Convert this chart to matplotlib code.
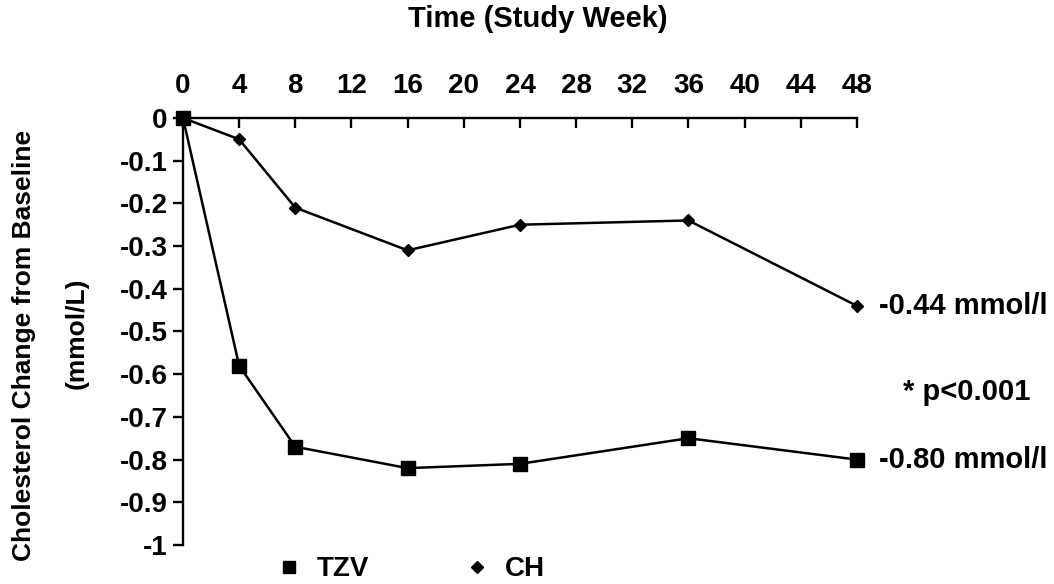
import matplotlib
matplotlib.use('Agg')
import matplotlib.pyplot as plt
from matplotlib.lines import Line2D

# study weeks and cholesterol change (mmol/L)
weeks = [0, 4, 8, 16, 24, 36, 48]
tzv = [0, -0.58, -0.77, -0.82, -0.81, -0.75, -0.80]
ch = [0, -0.05, -0.21, -0.31, -0.25, -0.24, -0.44]

xticks = list(range(0, 49, 4))
yticks = [0, -0.1, -0.2, -0.3, -0.4, -0.5, -0.6, -0.7, -0.8, -0.9, -1]
ytick_labels = ['0', '-0.1', '-0.2', '-0.3', '-0.4', '-0.5', '-0.6', '-0.7', '-0.8', '-0.9', '-1']

plt.rcParams['font.family'] = ['Liberation Sans', 'DejaVu Sans']

fig = plt.figure(figsize=(10.54, 5.84), dpi=100)
ax = fig.add_axes([0.1736, 0.0668, 0.8130 - 0.1736, 0.798 - 0.0668])

ax.plot(weeks, ch, color='black', lw=1.8, marker='D', ms=6.5, zorder=3, clip_on=False)
ax.plot(weeks, tzv, color='black', lw=1.8, marker='s', ms=10.5, zorder=4, clip_on=False)

ax.set_xlim(0, 48)
ax.set_ylim(-1, 0)

ax.spines['right'].set_visible(False)
ax.spines['bottom'].set_visible(False)
ax.spines['top'].set_linewidth(1.7)
ax.spines['left'].set_linewidth(1.7)

ax.xaxis.set_ticks_position('top')
ax.set_xticks(xticks)
ax.set_xticklabels([str(t) for t in xticks], fontweight='bold', fontsize=20)
ax.tick_params(axis='x', direction='in', length=7, width=1.7, pad=14)

ax.set_yticks(yticks)
ax.set_yticklabels(ytick_labels, fontweight='bold', fontsize=20)
ax.tick_params(axis='y', direction='out', length=7, width=1.7, pad=4)

fig.text(0.51, 0.967, 'Time (Study Week)', ha='center', va='center',
         fontsize=21, fontweight='bold')

fig.text(0.023, 0.409, 'Cholesterol Change from Baseline', rotation=90,
         ha='center', va='center', fontsize=19, fontweight='bold')
fig.text(0.073, 0.43, '(mmol/L)', rotation=90,
         ha='center', va='center', fontsize=19, fontweight='bold')

# end labels
ax.annotate('-0.44 mmol/l', xy=(weeks[-1], ch[-1]), xytext=(16, 0),
            textcoords='offset points', ha='left', va='center',
            fontsize=21, fontweight='bold', annotation_clip=False)
ax.annotate('-0.80 mmol/l', xy=(weeks[-1], tzv[-1]), xytext=(16, 0),
            textcoords='offset points', ha='left', va='center',
            fontsize=21, fontweight='bold', annotation_clip=False)
fig.text(0.857, 0.328, '* p<0.001', ha='left', va='center',
         fontsize=21, fontweight='bold')

# legend along the bottom
handles = [Line2D([], [], ls='none', marker='s', ms=8, color='black'),
           Line2D([], [], ls='none', marker='D', ms=6.5, color='black')]
leg = fig.legend(handles, ['TZV', 'CH'], loc='lower left', bbox_to_anchor=(0.237, -0.04),
                 ncol=2, frameon=False, handlelength=1.0, handletextpad=0.5,
                 columnspacing=3.4, prop={'size': 20, 'weight': 'bold'})

fig.savefig('out.png', dpi=100)
